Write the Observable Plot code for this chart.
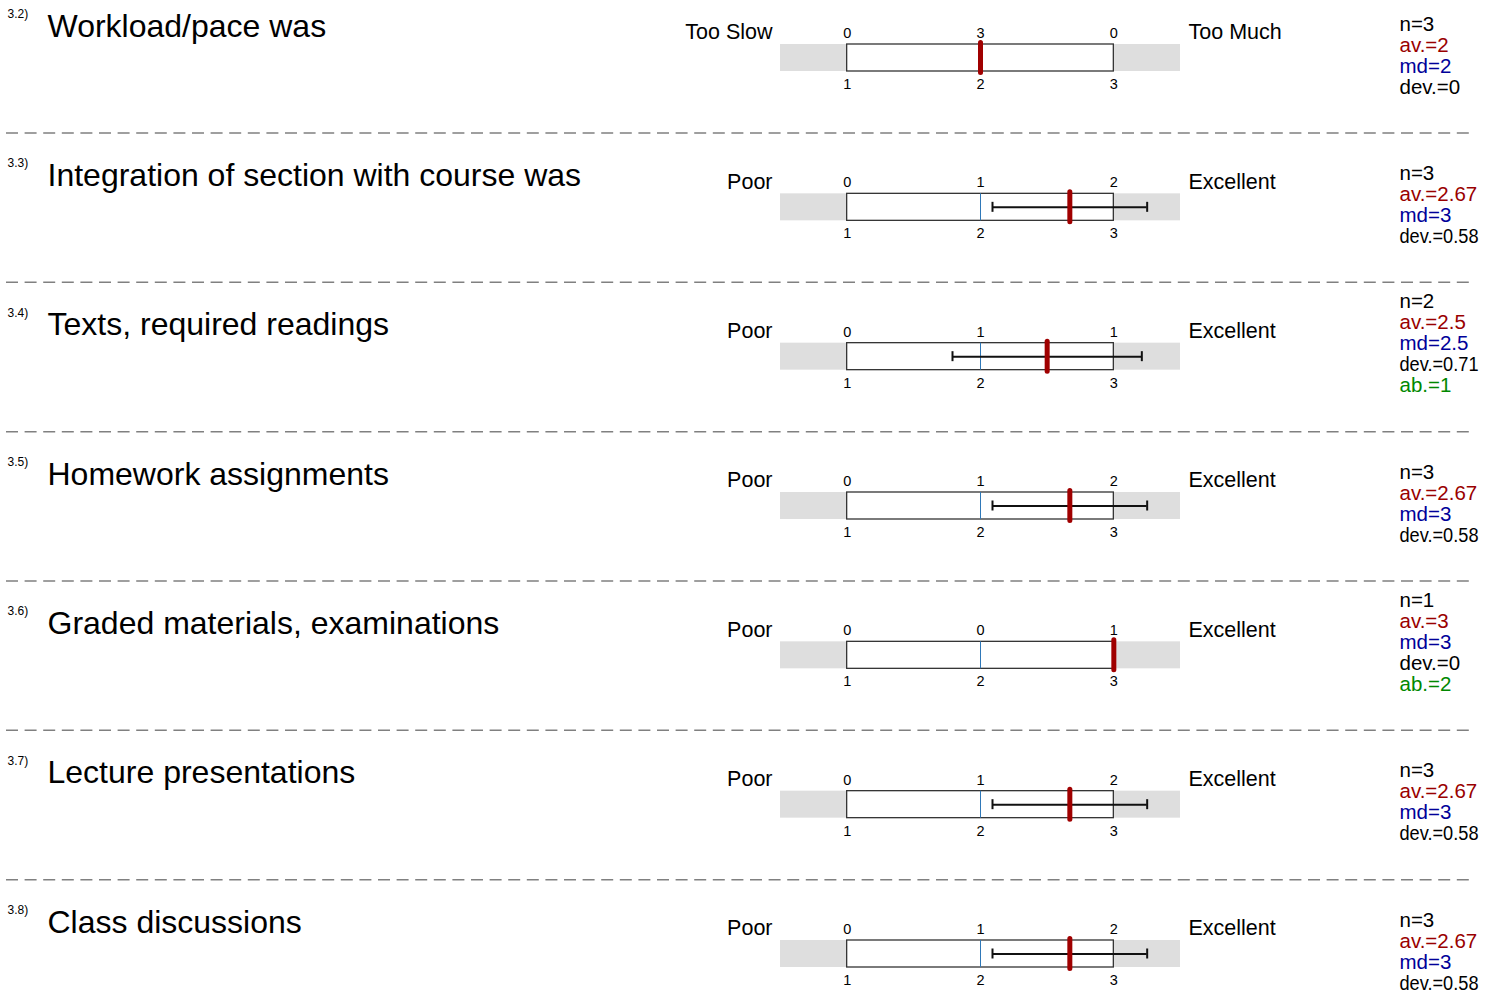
<!DOCTYPE html>
<html>
<head>
<meta charset="utf-8">
<script src="https://cdn.jsdelivr.net/npm/d3@7"></script>
<script src="https://cdn.jsdelivr.net/npm/@observablehq/plot@0.6"></script>
<style>
  html, body { margin: 0; padding: 0; background: #fff; }
  #chart svg { display: block; }
</style>
</head>
<body>
<div id="chart"></div>
<script>
// ---------- data ----------
const ids = ["3.2)", "3.3)", "3.4)", "3.5)", "3.6)", "3.7)", "3.8)"];
const questions = [
  "Workload/pace was",
  "Integration of section with course was",
  "Texts, required readings",
  "Homework assignments",
  "Graded materials, examinations",
  "Lecture presentations",
  "Class discussions"
];
const leftLabels = ["Too Slow", "Poor", "Poor", "Poor", "Poor", "Poor", "Poor"];
const rightLabels = ["Too Much", "Excellent", "Excellent", "Excellent", "Excellent", "Excellent", "Excellent"];
const scalePoints = [1, 2, 3];
const counts = [
  [0, 3, 0],
  [0, 1, 2],
  [0, 1, 1],
  [0, 1, 2],
  [0, 0, 1],
  [0, 1, 2],
  [0, 1, 2]
];
const nValues = [3, 3, 2, 3, 1, 3, 3];
const avValues = [2, 2.67, 2.5, 2.67, 3, 2.67, 2.67];
const mdValues = [2, 3, 2.5, 3, 3, 3, 3];
const devValues = [0, 0.58, 0.71, 0.58, 0, 0.58, 0.58];
const abValues = [null, null, 1, null, 2, null, null];

// ---------- layout helpers ----------
const W = 1495, H = 994;
const yTop = 57.5, yBottom = 953.5;
const nRows = questions.length;
const rowStep = (yBottom - yTop) / (nRows - 1);
const u = px => px / rowStep; // pixel offset -> row units
const lo = d3.min(scalePoints), hi = d3.max(scalePoints);
const mid = (lo + hi) / 2;

const rows = questions.map((q, i) => ({
  i, id: ids[i], q, left: leftLabels[i], right: rightLabels[i],
  n: nValues[i], av: avValues[i], md: mdValues[i], dev: devValues[i], ab: abValues[i]
}));

const countCells = [];
const scaleCells = [];
rows.forEach(r => scalePoints.forEach((p, k) => {
  countCells.push({i: r.i, x: p, c: counts[r.i][k]});
  scaleCells.push({i: r.i, x: p});
}));

const statLines = [];
rows.forEach(r => {
  const lines = [
    {t: `n=${r.n}`, c: "#000000"},
    {t: `av.=${r.av}`, c: "#990000"},
    {t: `md=${r.md}`, c: "#000099"},
    {t: `dev.=${r.dev}`, c: "#000000"}
  ];
  if (r.ab != null) lines.push({t: `ab.=${r.ab}`, c: "#008800"});
  const start = -34 - (lines.length - 4) * 21;
  lines.forEach((l, k) => statLines.push({y: r.i + u(start + k * 21), t: l.t, c: l.c}));
});

const errRows = rows.filter(r => r.dev > 0);
const sepRows = rows.slice(0, -1);

const halfBox = 13.5;
const font = "'Liberation Sans', Arial, Helvetica, sans-serif";
const statX = 1399, statMaxW = 79;

const chart = Plot.plot({
  width: W,
  height: H,
  margin: 0,
  style: {fontFamily: font, fontSize: "14px", background: "#fff", color: "#000"},
  x: {domain: [lo - 0.5, hi + 0.5], range: [780, 1180], axis: null},
  y: {domain: [0, nRows - 1], range: [yTop, yBottom], axis: null},
  marks: [
    // separators
    Plot.ruleY(sepRows, {y: d => d.i + u(75), stroke: "#808080", strokeWidth: 1.5,
      strokeDasharray: "12,6.6", insetLeft: 6, insetRight: 25}),
    // grey band
    Plot.rect(rows, {x1: lo - 0.5, x2: hi + 0.5, y1: d => d.i - u(halfBox), y2: d => d.i + u(halfBox),
      fill: "#dedede"}),
    // box
    Plot.rect(rows, {x1: lo, x2: hi, y1: d => d.i - u(halfBox), y2: d => d.i + u(halfBox),
      fill: "#fff", stroke: "#333", strokeWidth: 1.3}),
    // middle line
    Plot.ruleX(rows, {x: mid, y1: d => d.i - u(halfBox), y2: d => d.i + u(halfBox),
      stroke: "#2f78b8", strokeWidth: 1}),
    // error bars
    Plot.ruleY(errRows, {y: "i", x1: d => d.av - d.dev, x2: d => d.av + d.dev, stroke: "#111", strokeWidth: 2}),
    Plot.ruleX(errRows, {x: d => d.av - d.dev, y1: d => d.i - u(5), y2: d => d.i + u(5), stroke: "#111", strokeWidth: 2}),
    Plot.ruleX(errRows, {x: d => d.av + d.dev, y1: d => d.i - u(5), y2: d => d.i + u(5), stroke: "#111", strokeWidth: 2}),
    // mean marker
    Plot.ruleX(rows, {x: "av", y1: d => d.i - u(15), y2: d => d.i + u(15),
      stroke: "#a00000", strokeWidth: 5, strokeLinecap: "round"}),
    // counts above
    Plot.text(countCells, {x: "x", y: d => d.i - u(24.5), text: d => String(d.c), fontSize: 14.5, fill: "#000"}),
    // scale labels below
    Plot.text(scaleCells, {x: "x", y: d => d.i + u(26.5), text: d => String(d.x), fontSize: 14.5, fill: "#000"}),
    // left / right anchors
    Plot.text(rows, {x: lo - 0.5, dx: -8, y: d => d.i - u(25.5), text: "left", textAnchor: "end", fontSize: 21.5, fill: "#000"}),
    Plot.text(rows, {x: hi + 0.5, dx: 8, y: d => d.i - u(25.5), text: "right", textAnchor: "start", fontSize: 21.5, fill: "#000"}),
    // ids
    Plot.text(rows, {frameAnchor: "left", dx: 7, y: d => d.i - u(44), text: "id", textAnchor: "start", fontSize: 12, fill: "#000"}),
    // titles
    Plot.text(rows, {frameAnchor: "left", dx: 47, y: d => d.i - u(31.5), text: "q", textAnchor: "start", fontSize: 32, fill: "#000"}),
    // stats
    Plot.text(statLines, {frameAnchor: "left", dx: statX, y: "y", text: "t", fill: "c", textAnchor: "start", fontSize: 20.5})
  ]
});
document.getElementById("chart").appendChild(chart);

// squeeze stat lines that exceed the available width (as in the reference)
d3.select(chart).selectAll("text").each(function() {
  const box = this.getBoundingClientRect();
  if (box.left > statX - 10) {
    const len = this.getComputedTextLength();
    if (len > statMaxW) {
      this.setAttribute("textLength", statMaxW);
      this.setAttribute("lengthAdjust", "spacingAndGlyphs");
    }
  }
});
</script>
</body>
</html>
